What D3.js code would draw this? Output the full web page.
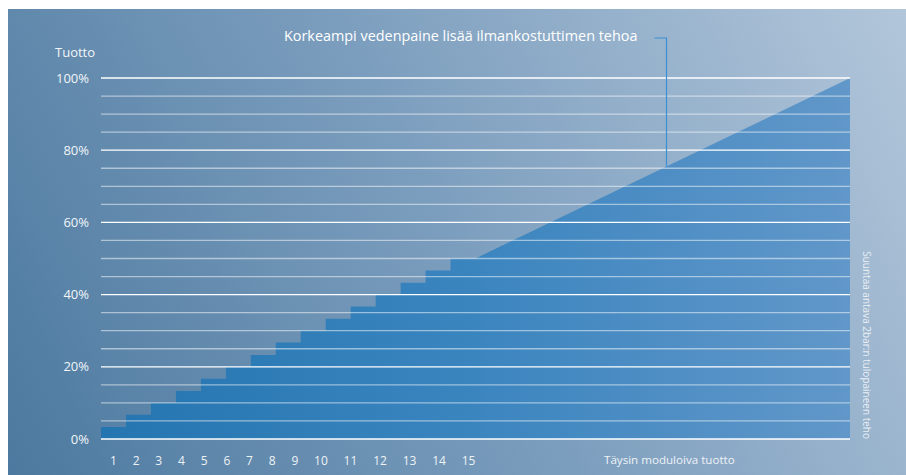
<!DOCTYPE html>
<html><head><meta charset="utf-8">
<script src="https://cdn.jsdelivr.net/npm/d3@7"></script>
<style>body{margin:0;background:#fff;} svg{display:block;}</style>
</head><body>
<svg id="chart" width="906" height="475"></svg>
<script>
// ---- data ----
const stepCategories = ["1","2","3","4","5","6","7","8","9","10","11","12","13","14","15"];
const stepValues = [3.3, 6.7, 10, 13.3, 16.7, 20, 23.3, 26.7, 30, 33.3, 36.7, 40, 43.3, 46.7, 50];
const modulatingX = [15, 30];
const modulatingValues = [50, 100];
const gridValues = [0,5,10,15,20,25,30,35,40,45,50,55,60,65,70,75,80,85,90,95,100];
const majorTickValues = [0, 20, 40, 60, 80, 100];
const majorTickLabels = ["0%", "20%", "40%", "60%", "80%", "100%"];
const annotationPoint = [22.65, 75.5];
const titleText = "Korkeampi vedenpaine lisää ilmankostuttimen tehoa";
const yAxisTitle = "Tuotto";
const modulatingLabel = "Täysin moduloiva tuotto";
const sideLabel = "Suuntaa antava 2bar:n tulopaineen teho";

// ---- layout ----
const svg = d3.select("#chart");
const W = 906, H = 475;
const plot = {left: 101, right: 850, top: 78, bottom: 439};
const FONT = "'Open Sans', 'Noto Sans', sans-serif";

const x = d3.scaleLinear().domain([0, 30]).range([plot.left, plot.right]);
const y = d3.scaleLinear().domain([0, 100]).range([plot.bottom, plot.top]);

const defs = svg.append("defs");
const bg = defs.append("linearGradient").attr("id", "bg")
  .attr("gradientUnits", "userSpaceOnUse")
  .attr("x1", 8).attr("y1", H).attr("x2", W).attr("y2", 9);
bg.append("stop").attr("offset", 0).attr("stop-color", "rgb(76,121,159)");
bg.append("stop").attr("offset", 0.5).attr("stop-color", "rgb(124,158,190)");
bg.append("stop").attr("offset", 1).attr("stop-color", "rgb(178,198,218)");

const ag = defs.append("linearGradient").attr("id", "area")
  .attr("gradientUnits", "userSpaceOnUse")
  .attr("x1", plot.left).attr("y1", 0).attr("x2", plot.right).attr("y2", 0);
ag.append("stop").attr("offset", 0).attr("stop-color", "#2475b0");
ag.append("stop").attr("offset", 0.5).attr("stop-color", "#3b85bf");
ag.append("stop").attr("offset", 1).attr("stop-color", "#6197c9");

// background panel
svg.append("rect").attr("x", 8).attr("y", 9).attr("width", W - 8).attr("height", H - 9)
  .attr("fill", "url(#bg)");

// area points: steps then modulating line
const pts = [];
stepValues.forEach((v, i) => { pts.push([i, v]); pts.push([i + 1, v]); });
modulatingX.forEach((xv, i) => pts.push([xv, modulatingValues[i]]));

const area = d3.area()
  .x(d => x(d[0]))
  .y0(y(0))
  .y1(d => y(d[1]));
svg.append("path").datum(pts).attr("d", area).attr("fill", "url(#area)");

// grid lines
svg.append("g").selectAll("line").data(gridValues).join("line")
  .attr("x1", plot.left).attr("x2", plot.right)
  .attr("y1", d => y(d)).attr("y2", d => y(d))
  .attr("stroke", "#fff")
  .attr("stroke-opacity", d => majorTickValues.includes(d) ? 1 : 0.5)
  .attr("stroke-width", 1.3);

// y labels
svg.append("g").selectAll("text").data(majorTickValues).join("text")
  .attr("x", 89).attr("y", d => y(d)).attr("dy", "0.36em")
  .attr("text-anchor", "end")
  .attr("font-family", FONT).attr("font-size", 13).attr("fill", "#f2f5f8")
  .text((d, i) => majorTickLabels[i]);

svg.append("text").attr("x", 55).attr("y", 57)
  .attr("font-family", FONT).attr("font-size", 13).attr("fill", "#f2f5f8")
  .text(yAxisTitle);

// x labels (flowing text)
const xl = svg.append("text").attr("x", 110).attr("y", 465)
  .attr("font-family", FONT).attr("font-size", 12).attr("fill", "#eef2f6");
xl.selectAll("tspan").data(stepCategories).join("tspan")
  .attr("dx", (d, i) => i === 0 ? 0 : 15.8)
  .text(d => d);

svg.append("text").attr("x", 604).attr("y", 464)
  .attr("font-family", FONT).attr("font-size", 11.6).attr("fill", "#eef2f6")
  .text(modulatingLabel);

// side label
svg.append("text")
  .attr("transform", `translate(866, ${y(0)}) rotate(90)`)
  .attr("text-anchor", "end").attr("dy", "0.35em")
  .attr("font-family", FONT).attr("font-size", 10).attr("fill", "#fff").attr("fill-opacity", 0.8)
  .text(sideLabel);

// title + leader
svg.append("text").attr("x", 284).attr("y", 41)
  .attr("font-family", FONT).attr("font-size", 14.4).attr("fill", "#fff")
  .text(titleText);

const ax = x(annotationPoint[0]), ay = y(annotationPoint[1]);
svg.append("path")
  .attr("d", `M${ax - 12},38 H${ax} V${ay}`)
  .attr("fill", "none").attr("stroke", "#3d8fd4").attr("stroke-width", 1.2);
</script>
</body></html>
